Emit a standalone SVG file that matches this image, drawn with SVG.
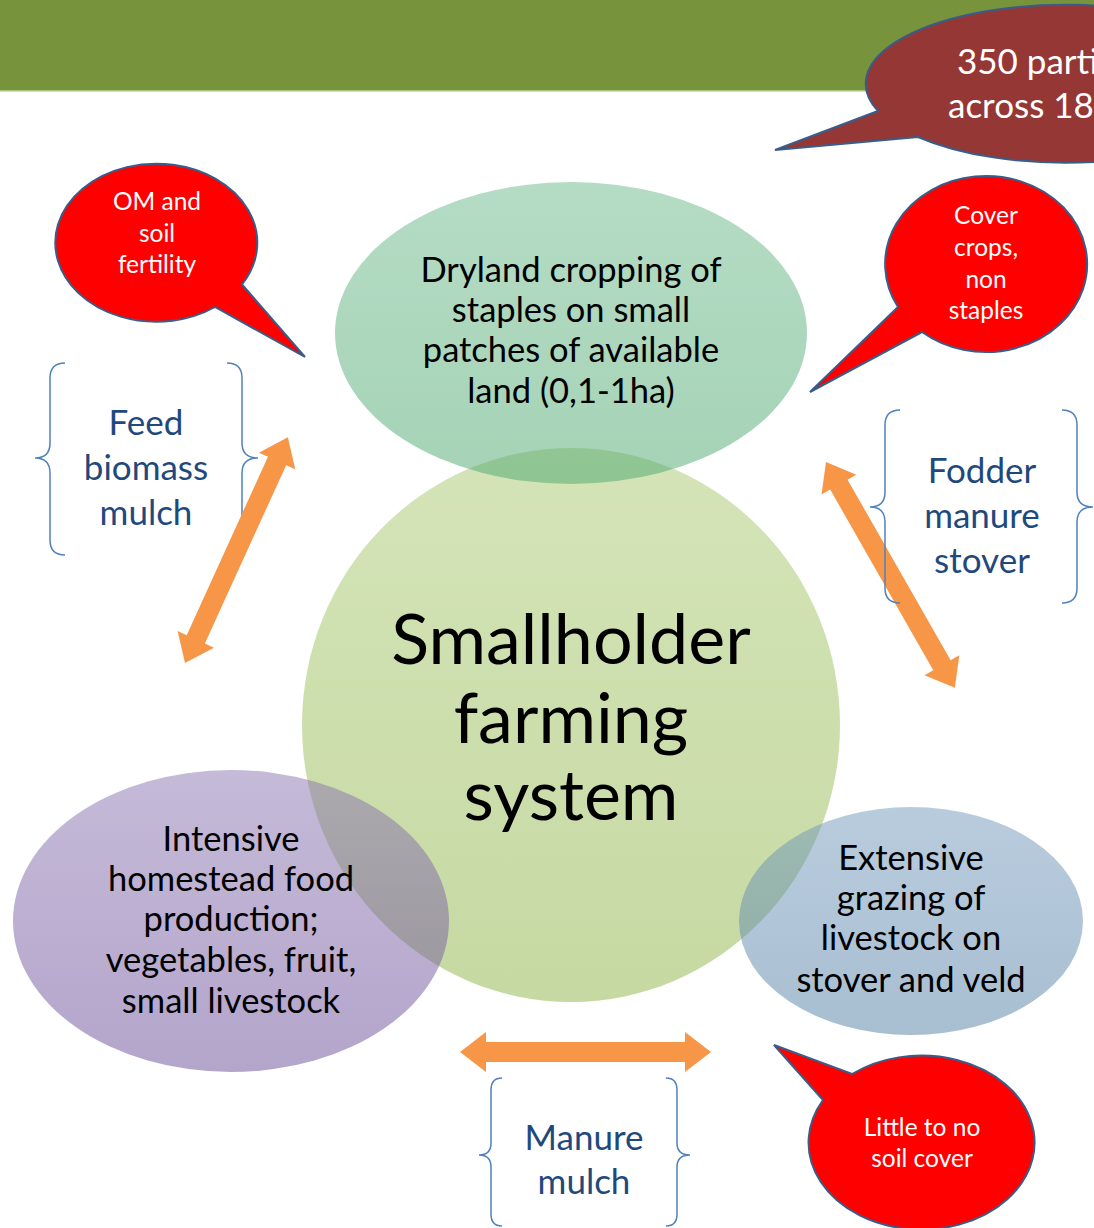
<svg xmlns="http://www.w3.org/2000/svg" width="1094" height="1228" viewBox="0 0 1094 1228">
<defs>
<linearGradient id="gCenter" x1="0" y1="0" x2="0" y2="1"><stop offset="0" stop-color="#D4E4B8"/><stop offset="1" stop-color="#C6D9A2"/></linearGradient>
<linearGradient id="gTop" x1="0" y1="0" x2="0" y2="1"><stop offset="0" stop-color="#6BB98B"/><stop offset="1" stop-color="#4BA76D"/></linearGradient>
<linearGradient id="gPurple" x1="0" y1="0" x2="0" y2="1"><stop offset="0" stop-color="#8B75B1"/><stop offset="1" stop-color="#694B97"/></linearGradient>
<linearGradient id="gBlue" x1="0" y1="0" x2="0" y2="1"><stop offset="0" stop-color="#7399BD"/><stop offset="1" stop-color="#517FA3"/></linearGradient>
</defs>
<style>
text{font-family:Lato,"Liberation Sans",sans-serif;text-anchor:middle}
.blk{fill:#000}
.ell{font-size:34.5px}
.brace{fill:none;stroke:#4F81BD;stroke-width:1.5}
.btxt{fill:#1F497D;font-size:35px}
.callout{fill:#FF0000;stroke:#385D8A;stroke-width:2}
.ctxt{fill:#FFFFFF;font-size:24.5px}
.arrow{fill:#F79646}
</style>
<g id="header">
<rect x="0" y="0" width="1094" height="90" fill="#77933C"/>
<rect x="0" y="90" width="1094" height="1.5" fill="#A9C47F"/>
</g>
<g id="center">
<ellipse cx="571" cy="725" rx="269" ry="277" fill="url(#gCenter)"/>
<text class="blk" x="571" y="664" font-size="70">Smallholder</text>
<text class="blk" x="571" y="743" font-size="70">farming</text>
<text class="blk" x="571" y="820" font-size="70">system</text>
</g>
<g id="dryland">
<ellipse cx="571" cy="333" rx="236" ry="151" fill="url(#gTop)" fill-opacity="0.5"/>
<text class="blk ell" x="571" y="282">Dryland cropping of</text>
<text class="blk ell" x="571" y="322">staples on small</text>
<text class="blk ell" x="571" y="362">patches of available</text>
<text class="blk ell" x="571" y="403">land (0,1-1ha)</text>
</g>
<g id="intensive">
<ellipse cx="231" cy="921" rx="218" ry="151" fill="url(#gPurple)" fill-opacity="0.5"/>
<text class="blk ell" x="231" y="851">Intensive</text>
<text class="blk ell" x="231" y="891">homestead food</text>
<text class="blk ell" x="231" y="931">production;</text>
<text class="blk ell" x="231" y="972">vegetables, fruit,</text>
<text class="blk ell" x="231" y="1013">small livestock</text>
</g>
<g id="extensive">
<ellipse cx="911" cy="921" rx="172" ry="114" fill="url(#gBlue)" fill-opacity="0.5"/>
<text class="blk ell" x="911" y="870">Extensive</text>
<text class="blk ell" x="911" y="910">grazing of</text>
<text class="blk ell" x="911" y="950">livestock on</text>
<text class="blk ell" x="911" y="992">stover and veld</text>
</g>
<g id="participants">
<path d="M 918,137 L 775,150 L 878,111 A 200 79 0 1 1 918,137 Z" fill="#953735" stroke="#385D8A" stroke-width="2"/>
<text x="957" y="74" font-size="35" fill="#FFFFFF" style="text-anchor:start">350 parti</text>
<text x="948" y="118" font-size="35" fill="#FFFFFF" style="text-anchor:start">across 18</text>
</g>
<g id="om-callout">
<path class="callout" d="M 242,284.5 L 305,357 L 215,307 A 101 79 0 1 1 242,284.5 Z"/>
<text class="ctxt" x="157" y="210">OM and</text>
<text class="ctxt" x="157" y="242">soil</text>
<text class="ctxt" x="157" y="273">fertility</text>
</g>
<g id="cover-callout">
<path class="callout" d="M 898,307 A 101 88 0 1 1 922,332 L 810,392 Z"/>
<text class="ctxt" x="986" y="224">Cover</text>
<text class="ctxt" x="986" y="256">crops,</text>
<text class="ctxt" x="986" y="288">non</text>
<text class="ctxt" x="986" y="319">staples</text>
</g>
<g id="soil-callout">
<path class="callout" d="M 852,1074 A 113 87 0 1 1 823,1100 L 774,1045 Z"/>
<text class="ctxt" x="922" y="1136">Little to no</text>
<text class="ctxt" x="922" y="1167">soil cover</text>
</g>
<g id="feed-label">
<path class="brace" d="M 65,363 Q 50,363 50,378 L 50,443 Q 50,458 35,458 Q 50,458 50,473 L 50,540 Q 50,555 65,555"/>
<path class="brace" d="M 227,363 Q 242,363 242,378 L 242,443 Q 242,458 258,458 Q 242,458 242,473 L 242,540 Q 242,555 227,555"/>
<text class="btxt" x="146" y="435">Feed</text>
<text class="btxt" x="146" y="480">biomass</text>
<text class="btxt" x="146" y="525">mulch</text>
</g>
<g id="connectors">
<polygon class="arrow" transform="translate(185,663) rotate(-65.5)" points="0,0 26,-20 26,-10 222,-10 222,-20 248,0 222,20 222,10 26,10 26,20"/>
<polygon class="arrow" transform="translate(826,462) rotate(60.3)" points="0,0 26,-20 26,-10 234,-10 234,-20 260,0 234,20 234,10 26,10 26,20"/>
<polygon class="arrow" transform="translate(460,1052)" points="0,0 26,-20 26,-10 225,-10 225,-20 251,0 225,20 225,10 26,10 26,20"/>
</g>
<g id="fodder-label">
<path class="brace" d="M 900,410 Q 885,410 885,425 L 885,492 Q 885,507 870,507 Q 885,507 885,522 L 885,588 Q 885,603 900,603"/>
<path class="brace" d="M 1062,410 Q 1077,410 1077,425 L 1077,492 Q 1077,507 1093,507 Q 1077,507 1077,522 L 1077,588 Q 1077,603 1062,603"/>
<text class="btxt" x="982" y="483">Fodder</text>
<text class="btxt" x="982" y="528">manure</text>
<text class="btxt" x="982" y="573">stover</text>
</g>
<g id="manure-label">
<path class="brace" d="M 502,1078 Q 491,1078 491,1090 L 491,1143 Q 491,1155 479,1155 Q 491,1155 491,1167 L 491,1214 Q 491,1226 502,1226"/>
<path class="brace" d="M 666,1078 Q 677,1078 677,1090 L 677,1143 Q 677,1155 690,1155 Q 677,1155 677,1167 L 677,1214 Q 677,1226 666,1226"/>
<text class="btxt" x="584" y="1150">Manure</text>
<text class="btxt" x="584" y="1194">mulch</text>
</g>
</svg>
